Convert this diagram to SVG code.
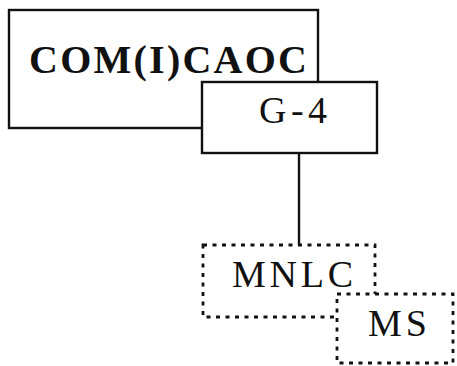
<svg xmlns="http://www.w3.org/2000/svg" width="457" height="366" viewBox="0 0 457 366">
<style>
.solid{fill:#fff;stroke:#111;stroke-width:2.4}
.dot{fill:#fff;stroke:#111;stroke-width:2.8;stroke-dasharray:4 5.5}
.t{font-family:"Liberation Serif","Times New Roman",serif;fill:#111}
.conn{stroke:#111;stroke-width:2.4;fill:none}
</style>
<g id="connectors">
<line class="conn" x1="299" y1="153" x2="299" y2="245"/>
</g>
<g id="comicaoc">
<rect class="solid" x="9" y="10" width="309" height="118"/>
<text class="t" x="29" y="73" font-size="40" font-weight="bold" textLength="278" lengthAdjust="spacing">COM(I)CAOC</text>
</g>
<g id="g4">
<rect class="solid" x="202" y="82" width="175" height="71"/>
<text class="t" x="259" y="123" font-size="38" textLength="68" lengthAdjust="spacing">G-4</text>
</g>
<g id="mnlc">
<rect class="dot" x="203" y="245" width="172" height="72"/>
<text class="t" x="232" y="287" font-size="38" textLength="121" lengthAdjust="spacing">MNLC</text>
</g>
<g id="ms">
<rect class="dot" x="337" y="294" width="116" height="69"/>
<text class="t" x="368" y="336" font-size="38" textLength="59" lengthAdjust="spacing">MS</text>
</g>
</svg>
